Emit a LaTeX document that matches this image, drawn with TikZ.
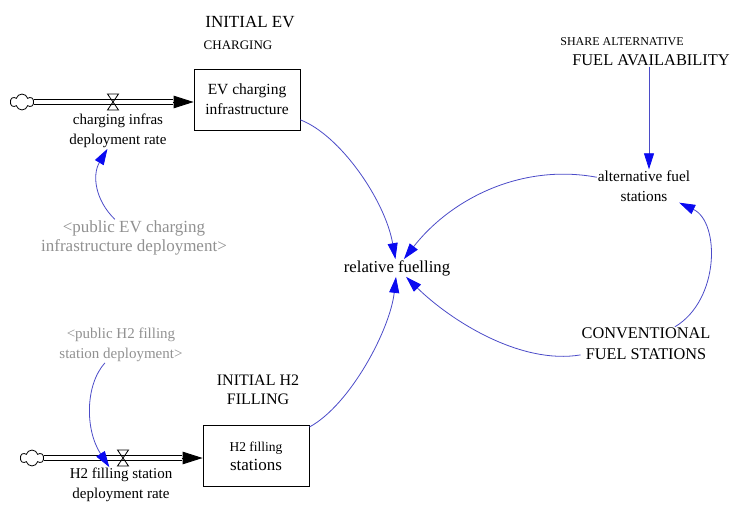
\documentclass[tikz,border=0pt]{standalone}
\usepackage{fontspec}
\setmainfont{Liberation Serif}
\usetikzlibrary{arrows.meta,shapes.symbols,calc}
\definecolor{linkc}{RGB}{75,75,200}
\definecolor{tipc}{RGB}{10,10,240}
\definecolor{greytxt}{RGB}{145,145,145}
\begin{document}
\begin{tikzpicture}[x=1pt,y=-1pt,
  lbl/.style={align=center, inner sep=1pt, font=\fontsize{15}{19.5}\selectfont},
  greylbl/.style={lbl, text=greytxt},
  stock/.style={draw, line width=0.8pt, align=center, inner sep=1pt, minimum width=106pt, minimum height=61pt},
  cloudnode/.style={cloud, draw, cloud puffs=6, aspect=1.4, minimum width=23pt, minimum height=16pt, inner sep=0pt, line width=0.8pt},
  pipe/.style={double, double distance=3.6pt, line width=0.9pt},
  flowtip/.style={line width=0.9pt, -{Triangle[length=20pt,width=12.5pt]}},
  valvepath/.style={line width=0.8pt},
  link/.style={draw=linkc, line width=0.8pt, -{Triangle[length=16pt,width=10pt,color=tipc]}}
]
\useasboundingbox (0,0) rectangle (736,505);

% ---------- EV charging chain ----------
\node[lbl, font=\fontsize{17}{21}\selectfont] (t1) at (250,22) {INITIAL EV};
\node[lbl, font=\fontsize{13}{16}\selectfont] (t2) at (238,45) {CHARGING};
\node[stock, font=\fontsize{15.5}{20}\selectfont] (ev) at (247,99.5) {EV charging\\infrastructure};
\node[cloudnode] (cl1) at (22,102) {};
\coordinate (v1) at (113,102);
\coordinate (e1) at ($(cl1.east -| ev.west)$);
\coordinate (a1) at ($(e1)+(-21,0)$);
\draw[pipe] (cl1.east) -- (a1);
\draw[flowtip] (a1) -- (e1);
\draw[valvepath] ($(v1)+(-5.5,-8)$) -- ++(11,0) -- ++(-11,16) -- ++(11,0) -- cycle;
\node[lbl] (rate1) at (118,131) {charging infras\\deployment rate};
\node[greylbl, font=\fontsize{17}{19.5}\selectfont] (pub1) at (134,238) {\textless public EV charging\\infrastructure deployment\textgreater};

% ---------- centre ----------
\node[lbl, font=\fontsize{16.7}{20}\selectfont] (rf) at (397,268) {relative fuelling};

% ---------- right side ----------
\node[lbl, font=\fontsize{12}{14}\selectfont] (sa) at (622,42) {SHARE ALTERNATIVE};
\node[lbl, font=\fontsize{16.4}{20}\selectfont] (fa) at (651,60) {FUEL AVAILABILITY};
\node[lbl, font=\fontsize{15.3}{20}\selectfont] (alt) at (644,186) {alternative fuel\\stations};
\node[lbl, font=\fontsize{16.3}{21}\selectfont] (conv) at (646,344) {CONVENTIONAL\\FUEL STATIONS};
\coordinate (avx) at (649,0);

% ---------- H2 chain ----------
\node[greylbl] (pub2) at (121,345) {\textless public H2 filling\\station deployment\textgreater};
\node[lbl, font=\fontsize{16}{19.5}\selectfont] (t3) at (258,390) {INITIAL H2\\FILLING};
\node[stock] (h2) at (256,456) {\fontsize{13.5}{17}\selectfont H2 filling\\[4pt]\fontsize{17}{22}\selectfont stations};
\node[cloudnode] (cl2) at (32,458) {};
\coordinate (v2) at (123,458);
\coordinate (e2) at ($(cl2.east -| h2.west)$);
\coordinate (a2) at ($(e2)+(-21,0)$);
\draw[pipe] (cl2.east) -- (a2);
\draw[flowtip] (a2) -- (e2);
\draw[valvepath] ($(v2)+(-5.5,-8)$) -- ++(11,0) -- ++(-11,16) -- ++(11,0) -- cycle;
\node[lbl] (rate2) at (121,485) {H2 filling station\\deployment rate};

% ---------- links ----------
\draw[link] (ev) .. controls (340,135) and (385,200) .. (rf);
\draw[link] (alt) .. controls (520,163) and (450,200) .. (rf);
\draw[link] (conv) .. controls (520,365) and (450,320) .. (rf);
\draw[link] (h2) .. controls (350,405) and (390,330) .. (rf);
\draw[link] (conv) .. controls (720,300) and (720,222) .. (alt);
\draw[link] (fa.south -| avx) -- (alt.north -| avx);
\draw[link] (pub1) .. controls (95,200) and (92,175) .. (rate1);
\draw[link] (pub2) .. controls (85,385) and (85,430) .. (rate2);
\end{tikzpicture}
\end{document}
